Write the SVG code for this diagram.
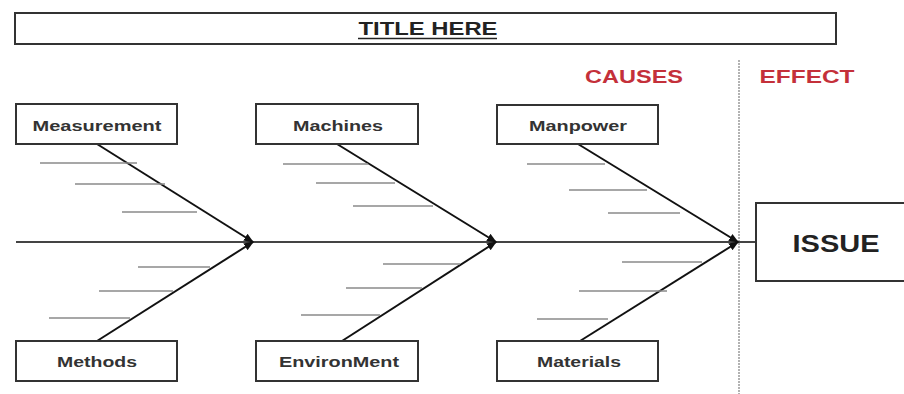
<svg xmlns="http://www.w3.org/2000/svg" width="904" height="394" viewBox="0 0 904 394">
<defs>
<marker id="ah" viewBox="0 0 10 10" refX="9" refY="5" markerWidth="5" markerHeight="5" orient="auto" markerUnits="strokeWidth">
<path d="M0,1 L10,5 L0,9 Z" fill="#111"/>
</marker>
<style>
.box{fill:#fff;stroke:#333;stroke-width:2}
.lbl{font-family:"Liberation Sans",Arial,sans-serif;font-weight:bold;font-size:15px;fill:#333;text-anchor:middle}
.red{font-family:"Liberation Sans",Arial,sans-serif;font-weight:bold;font-size:19px;fill:#c4303a;text-anchor:middle}
.bone{stroke:#111;stroke-width:2;fill:none;marker-end:url(#ah)}
.minor{stroke:#8a8a8a;stroke-width:1.5}
.spine{stroke:#444;stroke-width:2}
</style>
</defs>
<rect width="904" height="394" fill="#fff"/>
<g id="title">
<rect x="15" y="13" width="821" height="31" class="box"/>
<text x="428" y="35" font-family="Liberation Sans,Arial,sans-serif" font-weight="bold" font-size="19" fill="#222" text-anchor="middle" textLength="139" lengthAdjust="spacingAndGlyphs">TITLE HERE</text>
<line x1="358" y1="38.5" x2="497" y2="38.5" stroke="#222" stroke-width="1.5"/>
</g>
<g id="headers">
<text x="634" y="83" class="red" textLength="98" lengthAdjust="spacingAndGlyphs">CAUSES</text>
<text x="807" y="83" class="red" textLength="95" lengthAdjust="spacingAndGlyphs">EFFECT</text>
<line x1="739" y1="60" x2="739" y2="394" stroke="#999" stroke-width="1.5" stroke-dasharray="2,1"/>
</g>
<g id="connectors">
<line x1="16" y1="242" x2="756" y2="242" class="spine"/>
<line x1="97" y1="144" x2="253" y2="242" class="bone"/>
<line x1="97" y1="341" x2="253" y2="242" class="bone"/>
<line x1="337" y1="144" x2="496" y2="242" class="bone"/>
<line x1="342" y1="341" x2="496" y2="242" class="bone"/>
<line x1="578" y1="144" x2="738" y2="242" class="bone"/>
<line x1="580" y1="341" x2="738" y2="242" class="bone"/>
<g id="minor-lines">
<line x1="40" y1="163" x2="137" y2="163" class="minor"/>
<line x1="75" y1="184" x2="165" y2="184" class="minor"/>
<line x1="122" y1="212" x2="197" y2="212" class="minor"/>
<line x1="138" y1="267" x2="210" y2="267" class="minor"/>
<line x1="99" y1="291" x2="173" y2="291" class="minor"/>
<line x1="49" y1="318" x2="130" y2="318" class="minor"/>
<line x1="283" y1="164" x2="368" y2="164" class="minor"/>
<line x1="316" y1="183" x2="395" y2="183" class="minor"/>
<line x1="353" y1="206" x2="433" y2="206" class="minor"/>
<line x1="383" y1="264" x2="460" y2="264" class="minor"/>
<line x1="346" y1="288" x2="422" y2="288" class="minor"/>
<line x1="301" y1="315" x2="380" y2="315" class="minor"/>
<line x1="527" y1="164" x2="605" y2="164" class="minor"/>
<line x1="569" y1="190" x2="647" y2="190" class="minor"/>
<line x1="608" y1="213" x2="680" y2="213" class="minor"/>
<line x1="622" y1="262" x2="702" y2="262" class="minor"/>
<line x1="579" y1="291" x2="667" y2="291" class="minor"/>
<line x1="537" y1="319" x2="608" y2="319" class="minor"/>
</g>
</g>
<g id="measurement">
<rect x="16" y="104" width="161" height="40" class="box"/>
<text x="97" y="131" class="lbl" textLength="129" lengthAdjust="spacingAndGlyphs">Measurement</text>
</g>
<g id="machines">
<rect x="256" y="104" width="162" height="40" class="box"/>
<text x="338" y="131" class="lbl" textLength="90" lengthAdjust="spacingAndGlyphs">Machines</text>
</g>
<g id="manpower">
<rect x="497" y="105" width="161" height="39" class="box"/>
<text x="578" y="131" class="lbl" textLength="98" lengthAdjust="spacingAndGlyphs">Manpower</text>
</g>
<g id="methods">
<rect x="16" y="341" width="161" height="40" class="box"/>
<text x="97" y="367" class="lbl" textLength="80" lengthAdjust="spacingAndGlyphs">Methods</text>
</g>
<g id="environment">
<rect x="256" y="341" width="162" height="40" class="box"/>
<text x="339" y="367" class="lbl" textLength="120" lengthAdjust="spacingAndGlyphs">EnvironMent</text>
</g>
<g id="materials">
<rect x="497" y="341" width="161" height="40" class="box"/>
<text x="579" y="367" class="lbl" textLength="84" lengthAdjust="spacingAndGlyphs">Materials</text>
</g>
<g id="issue">
<rect x="756" y="203" width="160" height="78" class="box"/>
<text x="836" y="252" font-family="Liberation Sans,Arial,sans-serif" font-weight="bold" font-size="23" fill="#222" text-anchor="middle" textLength="87" lengthAdjust="spacingAndGlyphs">ISSUE</text>
</g>
</svg>
